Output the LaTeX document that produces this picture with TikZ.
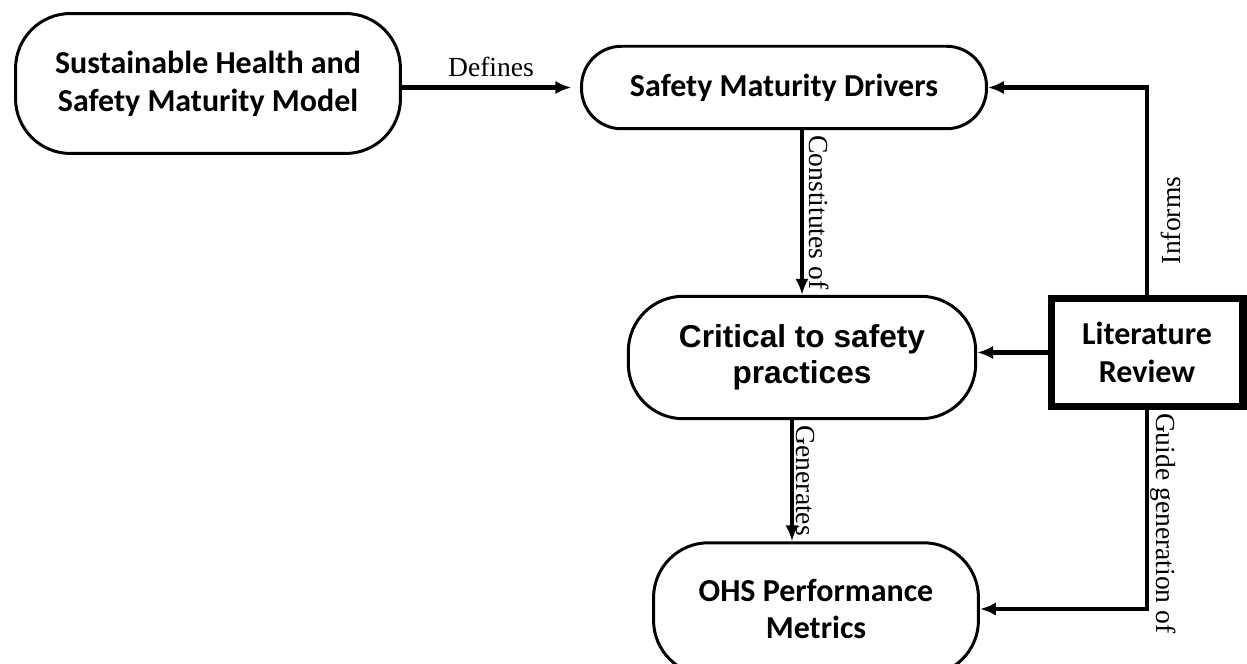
\documentclass[tikz,border=0pt]{standalone}
\usepackage{fontspec}
\setmainfont{Liberation Serif}
\newfontfamily\calibrifont{Carlito}
\newfontfamily\arialfont{Liberation Sans}
\usetikzlibrary{arrows.meta}

\begin{document}
\begin{tikzpicture}[x=0.02cm,y=0.02cm,>={Latex[length=9pt,width=7.5pt]},
  box/.style={draw,line width=1.7pt,rounded corners=1.1cm,align=center,inner sep=0pt,
    font=\calibrifont\bfseries\fontsize{18.2}{21.5}\selectfont},
  link/.style={->,line width=2.3pt},
  lbl/.style={font=\fontsize{15.7}{18}\selectfont,inner sep=2pt}]
\clip (0,0) rectangle (1247,663);
% the four stages and the review box
\node[box,minimum width=7.7cm,minimum height=2.8cm] (model) at (208,579.5) {Sustainable Health and\\Safety Maturity Model};
\node[box,rounded corners=0.8cm,minimum width=8.1cm,minimum height=1.65cm] (drivers) at (784,575.5) {Safety Maturity Drivers};
\node[box,font=\arialfont\bfseries\fontsize{18}{20.5}\selectfont,minimum width=6.95cm,minimum height=2.45cm] (practices) at (802,305.5) {Critical to safety\\practices};
\node[box,minimum width=6.5cm,minimum height=2.65cm] (metrics) at (816,54) {OHS Performance\\Metrics};
\node[box,rounded corners=0pt,line width=4pt,minimum width=3.84cm,minimum height=2.15cm] (review) at (1147,310.5) {Literature\\Review};
\coordinate (gen) at ([xshift=-0.2cm]practices.south);
% links
\draw[link,shorten >=5pt] (model.east |- drivers.west) -- (drivers.west) node[lbl,midway,above=3pt] {Defines};
\draw[link] (practices.north |- drivers.south) -- (practices.north) node[lbl,midway,rotate=-90,anchor=south,inner sep=3pt] {Constitutes of};
\draw[link] (review.north) |- (drivers.east) node[lbl,pos=0.18,rotate=90,anchor=north,inner sep=7pt] {Informs};
\draw[link] (review.west) -- (review.west -| practices.east);
\draw[link] (gen) -- (gen |- metrics.north) node[lbl,midway,rotate=-90,anchor=south,inner sep=1pt] {Generates};
\draw[link] (review.south) |- (metrics.east) node[lbl,pos=0.285,rotate=-90,anchor=south,inner sep=1pt] {Guide generation of};
\end{tikzpicture}
\end{document}
